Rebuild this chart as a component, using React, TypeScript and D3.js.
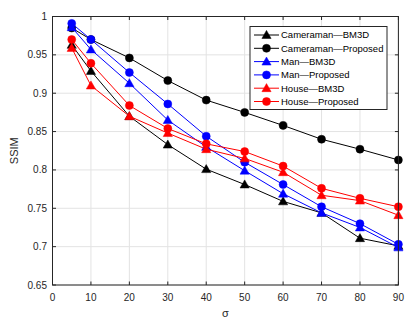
import React from "react";
import * as d3 from "d3";

const sigma = [5, 10, 20, 30, 40, 50, 60, 70, 80, 90];
const cameramanBM3D = [0.963, 0.929, 0.87, 0.833, 0.801, 0.781, 0.759, 0.744, 0.711, 0.701];
const cameramanProposed = [0.985, 0.970, 0.946, 0.9165, 0.891, 0.875, 0.858, 0.840, 0.827, 0.813];
const manBM3D = [0.986, 0.957, 0.913, 0.865, 0.830, 0.799, 0.769, 0.744, 0.725, 0.699];
const manProposed = [0.991, 0.970, 0.927, 0.886, 0.844, 0.810, 0.781, 0.752, 0.730, 0.703];
const houseBM3D = [0.959, 0.910, 0.870, 0.848, 0.827, 0.815, 0.797, 0.767, 0.760, 0.741];
const houseProposed = [0.970, 0.939, 0.884, 0.854, 0.834, 0.824, 0.805, 0.776, 0.763, 0.752];
const xTicks = [0, 10, 20, 30, 40, 50, 60, 70, 80, 90];
const yTicks = [0.65, 0.7, 0.75, 0.8, 0.85, 0.9, 0.95, 1];
const seriesNames = [
  "Cameraman\u2014BM3D",
  "Cameraman\u2014Proposed",
  "Man\u2014BM3D",
  "Man\u2014Proposed",
  "House\u2014BM3D",
  "House\u2014Proposed",
];

const series = [
  { name: seriesNames[0], values: cameramanBM3D, color: "#000000", marker: "tri" },
  { name: seriesNames[1], values: cameramanProposed, color: "#000000", marker: "circ" },
  { name: seriesNames[2], values: manBM3D, color: "#0000ff", marker: "tri" },
  { name: seriesNames[3], values: manProposed, color: "#0000ff", marker: "circ" },
  { name: seriesNames[4], values: houseBM3D, color: "#ff0000", marker: "tri" },
  { name: seriesNames[5], values: houseProposed, color: "#ff0000", marker: "circ" },
];

const W = 418;
const H = 325;
const L = 52.5, R = 398.4, T = 16.5, B = 285;
const FONT = "'Liberation Sans', Arial, Helvetica, sans-serif";

function Marker({ type, x, y, color }: { type: string; x: number; y: number; color: string }) {
  if (type === "circ") return <circle cx={x} cy={y} r={4} fill={color} stroke={color} strokeWidth={0.5} />;
  const s = 4.6;
  return (
    <path
      d={`M${x},${y - s} L${x + s},${y + s * 0.75} L${x - s},${y + s * 0.75} Z`}
      fill={color}
      stroke={color}
      strokeWidth={0.5}
    />
  );
}

export default function App() {
  const x = d3.scaleLinear().domain([0, 90]).range([L, R]);
  const y = d3.scaleLinear().domain([0.65, 1]).range([B, T]);
  const line = d3
    .line<number>()
    .x((_, i) => x(sigma[i]))
    .y((d) => y(d));

  const legX = 250, legY = 26.5, legW = 137, legH = 83;
  const rowH = 13.3;

  return (
    <svg width={W} height={H} style={{ position: "absolute", left: 0, top: 0, background: "#fff" }}>
      <rect x={0} y={0} width={W} height={H} fill="#fff" />
      {xTicks.map((t) => (
        <line key={"gx" + t} x1={x(t)} x2={x(t)} y1={T} y2={B} stroke="#e3e3e3" strokeWidth={1} />
      ))}
      {yTicks.map((t) => (
        <line key={"gy" + t} x1={L} x2={R} y1={y(t)} y2={y(t)} stroke="#e3e3e3" strokeWidth={1} />
      ))}
      {xTicks.map((t) => (
        <g key={"tx" + t}>
          <line x1={x(t)} x2={x(t)} y1={B} y2={B - 3.5} stroke="#262626" />
          <line x1={x(t)} x2={x(t)} y1={T} y2={T + 3.5} stroke="#262626" />
          <text x={x(t)} y={301} textAnchor="middle" fontSize={10} fontFamily={FONT} fill="#262626">
            {t}
          </text>
        </g>
      ))}
      {yTicks.map((t) => (
        <g key={"ty" + t}>
          <line x1={L} x2={L + 3.5} y1={y(t)} y2={y(t)} stroke="#262626" />
          <line x1={R} x2={R - 3.5} y1={y(t)} y2={y(t)} stroke="#262626" />
          <text x={47} y={y(t) + 3.5} textAnchor="end" fontSize={10} fontFamily={FONT} fill="#262626">
            {String(t)}
          </text>
        </g>
      ))}
      {series.map((s) => (
        <g key={s.name}>
          <path d={line(s.values) || ""} fill="none" stroke={s.color} strokeWidth={1} />
          {s.values.map((v, i) => (
            <Marker key={i} type={s.marker} x={x(sigma[i])} y={y(v)} color={s.color} />
          ))}
        </g>
      ))}
      <rect x={L} y={T} width={R - L} height={B - T} fill="none" stroke="#262626" strokeWidth={1} />
      <text
        transform={`translate(18,${(T + B) / 2}) rotate(-90)`}
        textAnchor="middle"
        fontSize={11}
        fontFamily={FONT}
        fill="#262626"
      >
        SSIM
      </text>
      <text x={(L + R) / 2} y={317} textAnchor="middle" fontSize={11} fontFamily={FONT} fill="#262626">
        σ
      </text>
      <g>
        <rect x={legX} y={legY} width={legW} height={legH} fill="#fff" stroke="#262626" strokeWidth={1} />
        {series.map((s, i) => {
          const cy = legY + 8.5 + i * rowH;
          return (
            <g key={"lg" + i}>
              <line x1={254} x2={279} y1={cy} y2={cy} stroke={s.color} strokeWidth={1} />
              <Marker type={s.marker} x={266.5} y={cy} color={s.color} />
              <text x={281} y={cy + 3.4} fontSize={9.5} fontFamily={FONT} fill="#000">
                {s.name}
              </text>
            </g>
          );
        })}
      </g>
    </svg>
  );
}
